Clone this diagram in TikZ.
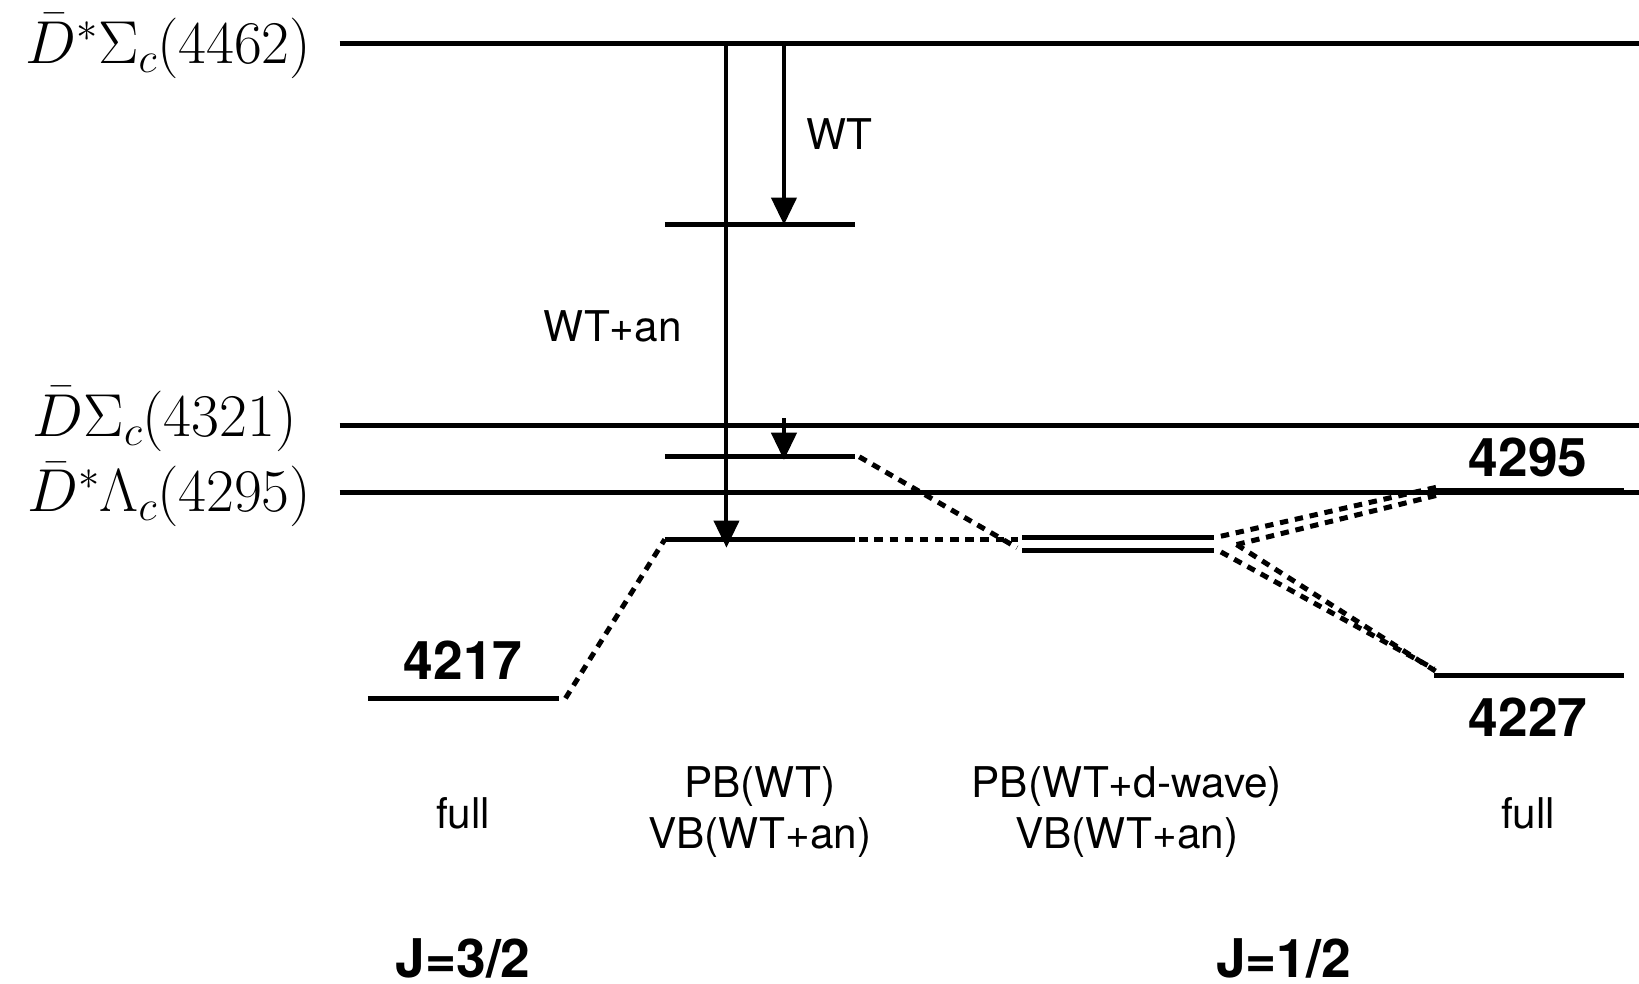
\RequirePackage{fix-cm}
\documentclass[tikz,border=0pt]{standalone}
\usepackage{fontspec}
\setmainfont{TeX Gyre Heros}
\usetikzlibrary{arrows.meta}
\begin{document}
\begin{tikzpicture}[x=1pt,y=-1pt,
  lvl/.style={line width=4.6pt},
  dbl/.style={line width=5pt},
  dsh/.style={line width=4.8pt, dash pattern=on 8pt off 6.5pt},
  arr/.style={line width=3.8pt, -{Triangle[length=26pt,width=24pt]}},
  mlab/.style={font=\fontsize{58}{64}\selectfont, anchor=east, inner sep=0pt},
  lab/.style={font=\fontsize{40.5}{49}\selectfont, align=center, inner sep=0pt},
  blab/.style={font=\fontsize{51}{60}\selectfont\bfseries, inner sep=0pt}]
\useasboundingbox (0,0) rectangle (1568,941);
% thresholds
\coordinate (t1l) at (325,42);  \coordinate (t1r) at (1568,42);
\coordinate (t2l) at (325,407); \coordinate (t2r) at (1568,407);
\coordinate (t3l) at (325,471); \coordinate (t3r) at (1568,471);
\draw[lvl] (t1l) -- (t1r);
\draw[lvl] (t2l) -- (t2r);
\draw[lvl] (t3l) -- (t3r);
\node[mlab] (l1) at (298,44) {$\bar D^*\Sigma_c(4462)$};
\node[mlab] (l2) at (284,401) {$\bar D\Sigma_c(4321)$};
\node[mlab] (l3) at (298,473) {$\bar D^*\Lambda_c(4295)$};
% middle levels
\coordinate (m1a) at (636,215); \coordinate (m1b) at (818,215);
\coordinate (m2a) at (636,437); \coordinate (m2b) at (818,437);
\coordinate (m3a) at (636,516); \coordinate (m3b) at (818,516);
\draw[lvl] (m1a) -- (m1b);
\draw[lvl] (m2a) -- (m2b);
\draw[lvl] (m3a) -- (m3b);
% arrows
\coordinate (a1s) at (750,42);  \coordinate (a1e) at (750,215);
\coordinate (a2s) at (695,42);  \coordinate (a2e) at (695,524);
\coordinate (a3s) at (750,400); \coordinate (a3e) at (750,440);
\draw[arr] (a1s) -- (a1e);
\draw[arr] (a2s) -- (a2e);
\draw[arr] (a3s) -- (a3e);
\node[lab] (wt) at (803,128) {WT};
\node[lab] (wtan) at (586,312) {WT+an};
% left level
\coordinate (lla) at (352,668); \coordinate (llb) at (535,668);
\draw[lvl] (lla) -- (llb);
\node[blab] (n4217) at (443,632) {4217};
\coordinate (lld) at (541,668);
\draw[dsh] (lld) -- (m3a);
% double level
\coordinate (d1a) at (978,514); \coordinate (d1b) at (1161,514);
\coordinate (d2a) at (978,527); \coordinate (d2b) at (1161,527);
\draw[dbl] (d1a) -- (d1b);
\draw[dbl] (d2a) -- (d2b);
\coordinate (m2d) at (822,437); \coordinate (m3d) at (822,516);
\coordinate (dl1) at (973,524); \coordinate (dl2) at (974,516);
\draw[dsh] (m2d) -- (dl1);
\draw[dsh] (m3d) -- (dl2);
% right levels
\coordinate (r1a) at (1374,469); \coordinate (r1b) at (1554,469);
\coordinate (r2a) at (1372,646); \coordinate (r2b) at (1554,646);
\draw[lvl] (r1a) -- (r1b);
\draw[lvl] (r2a) -- (r2b);
\node[blab] (n4295) at (1462,438) {4295};
\node[blab] (n4227) at (1462,686) {4227};
\coordinate (o1) at (1168,513); \coordinate (o2) at (1168,528);
\coordinate (iv) at (1183,521);
\coordinate (e1) at (1375,466); \coordinate (e2) at (1378,473);
\coordinate (e3) at (1372,640); \coordinate (e4) at (1378,645);
\draw[dsh] (o1) -- (e1);
\draw[dsh] (iv) -- (e2);
\draw[dsh] (o2) -- (e3);
\draw[dsh] (iv) -- (e4);
% bottom labels
\node[lab] (f1) at (443,778) {full};
\node[lab] (c2) at (727,777) {PB(WT)\\VB(WT+an)};
\node[lab] (c3) at (1078,777) {PB(WT+d-wave)\\VB(WT+an)};
\node[lab] (f4) at (1462,778) {full};
\node[blab] (j1) at (443,917) {J=3/2};
\node[blab] (j2) at (1228,917) {J=1/2};
\end{tikzpicture}
\end{document}
